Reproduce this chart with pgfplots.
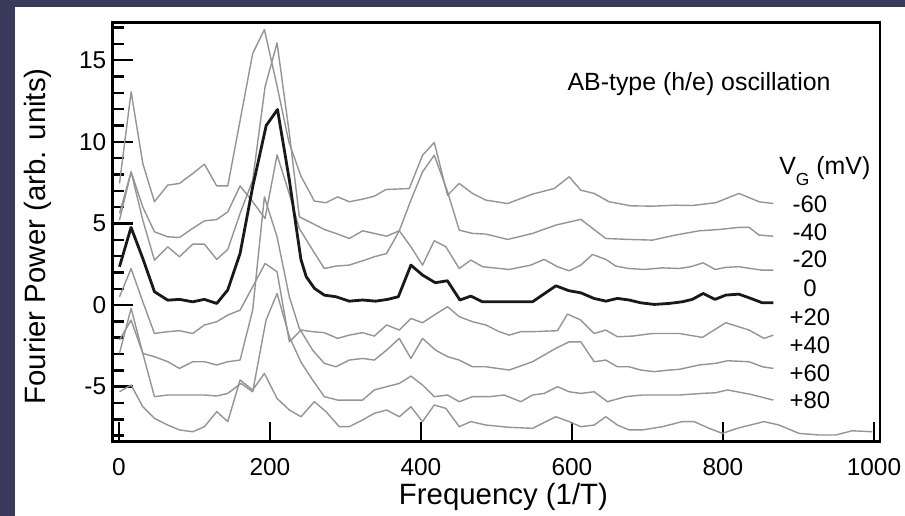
\documentclass[border=0pt]{standalone}
\usepackage{pgfplots}
\pgfplotsset{compat=1.18}
\usepackage{fontspec}
\setmainfont{Liberation Sans}
\definecolor{bgdark}{RGB}{58,58,92}
\definecolor{cgrey}{RGB}{148,148,148}
\definecolor{cblack}{RGB}{25,25,25}
\begin{document}
\begin{tikzpicture}
\fill[bgdark] (0,0) rectangle (905bp,516bp);
\fill[white] (15bp,0) rectangle (905bp,509bp);
\begin{axis}[
 at={(112.7bp,74.3bp)}, anchor=south west,
 scale only axis, width=767.3bp, height=419bp,
 xmin=-8.3, xmax=1008, ymin=-8.37, ymax=17.3,
 axis line style={line width=2.5bp, black},
 xtick={0,200,400,600,800,1000}, xticklabels={0,200,400,600,800,1000},
 ytick={-5,0,5,10,15}, yticklabels={-5,0,5,10,15},
 minor ytick={-8,-7,...,17},
 tick align=inside, xtick pos=bottom, ytick pos=left,
 major tick length=20bp, minor tick length=11bp,
 every tick/.style={black, line width=2.5bp},
 tick label style={font=\fontsize{24.5}{28}\selectfont},
 xticklabel style={inner sep=1bp, yshift=-16bp},
 yticklabel style={xshift=-3bp},
 xlabel={Frequency (1/T)}, ylabel={Fourier Power (arb. units)},
 every axis x label/.style={at={(axis description cs:0.5093,-0.150)}, anchor=base, inner sep=1bp, font=\fontsize{29.5}{34}\selectfont},
 every axis y label/.style={at={(axis description cs:-0.098,0.49)}, anchor=center, rotate=90, font=\fontsize{29.5}{34}\selectfont},
 clip=false,
 every axis plot/.append style={line join=round},
]
% -60 mV
\addplot[cgrey, line width=1.4bp] coordinates {(0.7,7.45) (16.1,13.06) (31.6,8.67) (47,6.33) (64.6,7.35) (80.1,7.45) (97.7,8.06) (113.2,8.63) (129.5,7.3) (144.1,7.3) (160.4,11.3) (177.1,15.41) (192.6,16.88) (209,13.5) (225,10.0) (241,7.9) (258.8,6.37) (274.2,6.27) (289.6,6.63) (305.1,6.33) (322.7,6.49) (338.2,6.67) (353.6,7.08) (384.5,7.14) (402.1,9.18) (417.6,9.96) (435.2,6.73) (450.7,7.45) (468.3,6.84) (486,6.43) (514.7,6.22) (547.8,6.8) (576.4,7.14) (596.3,7.86) (611.7,7.04) (629.4,6.84) (649.2,6.33) (677.9,6.08) (706.6,6.06) (737,6.12) (759.5,6.1) (790.4,6.27) (821.3,6.84) (847.8,6.33) (866.8,6.22)};
% -40 mV
\addplot[cgrey, line width=1.4bp] coordinates {(0.7,5.61) (16.1,8.16) (31.6,6.0) (47,4.49) (64.6,4.18) (80.1,4.14) (97.7,4.7) (113.2,5.16) (129.5,5.24) (144.1,5.71) (160.4,7.3) (177.1,6.33) (193.5,5.31) (209.4,9.2) (225.7,6.8) (238.9,4.69) (256.5,3.37) (272,2.24) (287.4,2.39) (305.1,2.45) (322.7,2.71) (338.2,2.96) (354.5,3.16) (371.3,4.55) (386.7,6.43) (402.1,8.16) (417.6,9.18) (435.2,6.94) (450.7,4.59) (468.3,4.39) (486,4.35) (514.7,4.02) (547.8,4.39) (578.6,4.9) (611.7,5.25) (644.8,4.08) (675.7,4.02) (706.6,3.98) (737.3,4.29) (768.4,4.55) (794.9,4.63) (821.3,4.76) (834.6,4.76) (847.8,4.29) (866.8,4.22)};
% -20 mV
\addplot[cgrey, line width=1.4bp] coordinates {(0.7,5.2) (16.1,8.16) (31.6,5.2) (47,2.75) (64.6,3.57) (80.1,2.96) (97.7,3.73) (113.2,3.73) (129.5,2.8) (144.1,3.41) (160.4,5.61) (177.1,7.65) (193.5,13.37) (209.4,16.06) (225.7,10.5) (238.9,5.41) (256.5,5.0) (272,4.63) (287.4,4.39) (305.1,4.08) (322.7,4.55) (338.2,4.39) (354.5,4.22) (371.3,4.55) (386.7,3.57) (402.1,2.45) (417.6,3.94) (433,3.57) (450.7,2.24) (466.1,2.76) (481.6,2.35) (516.9,2.18) (545.6,2.45) (563.2,2.8) (580.8,2.35) (596.3,2.1) (611.7,2.45) (627.2,3.1) (644.8,2.8) (658,2.39) (675.7,2.24) (695.6,2.18) (719.8,2.28) (741.9,2.24) (757.3,2.35) (773.7,2.59) (789.6,2.18) (803.7,2.31) (821.3,2.35) (836.8,2.24) (852.2,2.14) (866.8,2.14)};
% +20 mV
\addplot[cgrey, line width=1.4bp] coordinates {(0.7,0.51) (16.1,2.24) (31.6,0.2) (47,-1.74) (64.6,-1.63) (80.1,-1.57) (97.7,-1.74) (113.2,-1.22) (129.5,-1.02) (144.1,-0.61) (160.4,-0.31) (177.1,1.12) (193.5,2.55) (209.4,2.04) (225.7,-2.25) (241.1,-1.53) (256.5,-1.63) (272,-1.69) (289.6,-2.04) (305.1,-1.84) (322.7,-1.69) (338.2,-1.9) (354.5,-1.22) (371.3,-1.53) (386.7,-0.82) (402.1,-1.08) (417.6,-0.61) (435.2,-0.1) (450.7,-0.71) (468.3,-1.02) (486,-1.22) (503.6,-1.63) (516.9,-1.84) (532.3,-1.63) (547.8,-1.63) (580.8,-1.57) (594.1,-0.55) (611.7,-0.92) (629.4,-1.74) (644.8,-1.53) (660.2,-1.94) (680.1,-1.9) (706.6,-1.74) (741.9,-1.74) (772.8,-1.98) (803.7,-1.08) (834.6,-1.53) (854.4,-2.04) (866.8,-1.84)};
% +40 mV
\addplot[cgrey, line width=1.4bp] coordinates {(0.7,-2.14) (16.1,-0.92) (31.6,-2.96) (47,-3.16) (64.6,-3.47) (80.1,-3.88) (97.7,-3.47) (113.2,-3.47) (129.5,-3.67) (144.1,-3.47) (160.4,-3.37) (177.1,-0.31) (192.6,6.63) (209.4,4.18) (225.7,0.5) (238.9,-1.43) (256.5,-2.76) (272,-3.57) (287.4,-3.78) (305.1,-3.37) (322.7,-3.27) (338.2,-3.37) (354.5,-2.76) (371.3,-2.04) (386.7,-3.27) (402.1,-2.04) (419.3,-2.76) (435.2,-3.16) (450.7,-3.37) (468.3,-3.78) (486,-3.78) (516.9,-3.98) (547.8,-3.47) (578.6,-2.65) (596.3,-2.25) (611.7,-2.25) (629.4,-3.47) (644.8,-3.37) (660.2,-3.78) (675.7,-3.78) (691.1,-3.98) (708.8,-4.08) (728.6,-3.98) (741.9,-3.94) (768.4,-3.67) (790.4,-3.57) (805.9,-3.41) (834.6,-3.47) (852.2,-3.78) (866.8,-3.88)};
% +60 mV
\addplot[cgrey, line width=1.4bp] coordinates {(0.7,-2.96) (16.1,-0.2) (31.6,-2.96) (47,-5.61) (64.6,-5.51) (80.1,-5.51) (97.7,-5.51) (113.2,-5.51) (129.5,-5.57) (144.1,-5.41) (161.7,-4.8) (177.1,-5.31) (194.8,-0.92) (209.4,0.71) (225.7,-1.94) (241.1,-3.5) (256.5,-4.59) (272,-5.61) (289.6,-5.82) (305.1,-5.82) (322.7,-5.82) (338.2,-5.2) (354.5,-5.0) (371.3,-4.8) (386.7,-4.35) (402.1,-4.9) (417.6,-5.61) (435.2,-5.51) (450.7,-5.92) (468.3,-5.61) (490.4,-5.61) (510.3,-5.51) (532.3,-5.92) (547.8,-5.51) (563.2,-5.41) (581,-5.0) (596.3,-5.31) (611.7,-5.41) (629.4,-5.31) (647,-5.92) (671.3,-5.61) (693.3,-5.51) (719.8,-5.51) (741.9,-5.51) (772.8,-5.41) (790.4,-5.37) (805.9,-5.2) (834.6,-5.45) (866.8,-5.82)};
% +80 mV
\addplot[cgrey, line width=1.4bp] coordinates {(0.7,-5.31) (16.1,-4.9) (31.6,-6.23) (47,-6.94) (64.6,-7.35) (80.1,-7.65) (97.7,-7.76) (113.2,-7.45) (129.5,-6.53) (144.1,-7.14) (160.4,-4.59) (177.1,-5.2) (192.6,-4.19) (209.4,-5.72) (225.7,-6.43) (241.1,-6.84) (258.8,-5.92) (274.2,-6.53) (291.8,-7.45) (305.1,-7.45) (322.7,-7.04) (338.2,-6.63) (354.5,-6.43) (371.3,-6.84) (386.7,-6.23) (402.1,-7.14) (417.6,-6.12) (433,-6.33) (450.7,-7.45) (466.1,-7.14) (486,-7.35) (516.9,-7.49) (547.8,-7.55) (578.6,-6.84) (596.3,-7.14) (611.7,-7.45) (629.4,-7.35) (644.8,-6.84) (660.2,-7.35) (675.7,-7.65) (693.3,-7.65) (719.8,-7.45) (746,-7.14) (761.8,-7.14) (781.6,-7.55) (799.3,-7.86) (819,-7.55) (854.4,-7.14) (874.3,-7.35) (900.7,-7.86) (927.2,-7.96) (949.3,-7.96) (971.3,-7.7) (997.8,-7.76)};
% 0 mV (thick)
\addplot[cblack, line width=2.8bp] coordinates {(0.7,2.35) (16,4.76) (32,2.8) (47,0.82) (64.6,0.3) (80,0.35) (97.7,0.2) (113,0.35) (129.5,0.1) (144,0.92) (160.4,3.16) (177.1,7.24) (195,11.0) (210,11.98) (225.7,7.65) (241,2.8) (248,1.74) (259,1.02) (272,0.61) (287.5,0.51) (305,0.24) (322.7,0.31) (340,0.24) (355.8,0.35) (370,0.51) (386.7,2.45) (402,1.84) (419,1.37) (435,1.49) (451.6,0.31) (466,0.55) (481.5,0.2) (503.6,0.2) (517,0.2) (547.7,0.2) (578.7,1.18) (596,0.88) (611.8,0.75) (629,0.41) (645,0.24) (660,0.41) (675.7,0.31) (691,0.14) (708.8,0.04) (728.7,0.1) (746,0.2) (759.5,0.35) (773.7,0.71) (789.5,0.35) (803.7,0.61) (821,0.67) (836.8,0.41) (852,0.14) (866.7,0.14)};
% annotations
\node[anchor=base, font=\fontsize{25}{30}\selectfont] at (axis cs:768.4,13.12) {AB-type (h/e) oscillation};
\node[anchor=base west, font=\fontsize{25}{28}\selectfont] at (axis cs:869.9,8.02) {V\raisebox{-11bp}{\fontsize{17.5}{17.5}\selectfont G} (mV)};
\node[anchor=base, font=\fontsize{24}{28}\selectfont] at (axis cs:915.3,5.65) {-60};
\node[anchor=base, font=\fontsize{24}{28}\selectfont] at (axis cs:915.3,3.97) {-40};
\node[anchor=base, font=\fontsize{24}{28}\selectfont] at (axis cs:915.3,2.28) {-20};
\node[anchor=base, font=\fontsize{24}{28}\selectfont] at (axis cs:915.3,0.51) {0};
\node[anchor=base, font=\fontsize{24}{28}\selectfont] at (axis cs:915.3,-1.23) {+20};
\node[anchor=base, font=\fontsize{24}{28}\selectfont] at (axis cs:915.3,-2.96) {+40};
\node[anchor=base, font=\fontsize{24}{28}\selectfont] at (axis cs:915.3,-4.70) {+60};
\node[anchor=base, font=\fontsize{24}{28}\selectfont] at (axis cs:915.3,-6.33) {+80};
\end{axis}
\end{tikzpicture}
\end{document}
